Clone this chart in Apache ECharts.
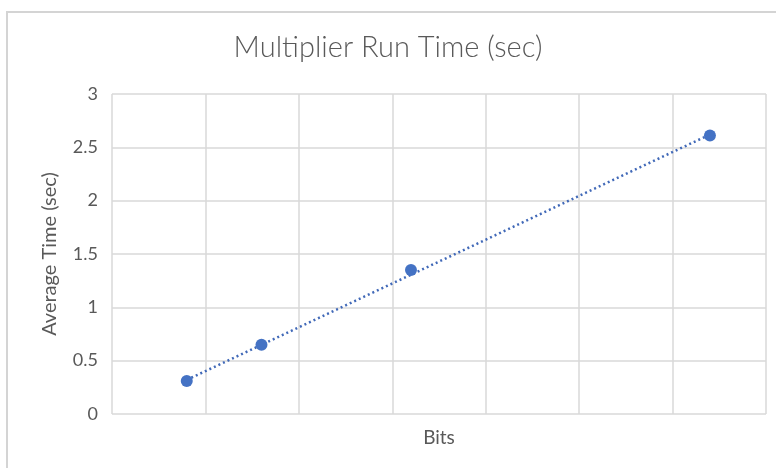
<!DOCTYPE html>
<html>
<head>
<meta charset="utf-8">
<script src="https://cdn.jsdelivr.net/npm/echarts@6/dist/echarts.min.js"></script>
<style>
html,body{margin:0;padding:0;background:#fff;}
#main{width:776px;height:468px;}
</style>
</head>
<body>
<div id="main"></div>
<script>
// bits vs average run time
var bits=[8, 16, 32, 64];
var avgTime=[0.31, 0.65, 1.35, 2.61];
// dotted linear trendline, ends
var trendBits=[8, 64];
var trendTime=[0.32, 2.62];
var yTicks=[0, 0.5, 1, 1.5, 2, 2.5, 3];

var blue='#4472C4';
var txt='#595959';
var font='Lato';

var chart=echarts.init(document.getElementById('main'));
chart.setOption({
    animation:false,
    backgroundColor:'#fff',
    graphic:[{
        type:'rect',
        shape:{x:7, y:12, width:800, height:500},
        style:{fill:'none', stroke:'#d4d4d4', lineWidth:2},
        silent:true
    }],
    title:{
        text:'Multiplier Run Time (sec)',
        left:'center', top:33, padding:0,
        textStyle:{fontFamily:font, fontSize:29, fontWeight:300, color:txt}
    },
    grid:{left:112, right:10, top:94, bottom:54},
    xAxis:{
        type:'value', min:0, max:70, interval:10,
        name:'Bits', nameLocation:'middle', nameGap:14,
        nameTextStyle:{fontFamily:font, fontSize:19, color:txt, verticalAlign:'top'},
        axisLine:{show:false}, axisTick:{show:false},
        axisLabel:{show:false},
        splitLine:{show:true, lineStyle:{color:'#d9d9d9', width:1.5}}
    },
    yAxis:{
        type:'value', min:yTicks[0], max:yTicks[yTicks.length-1], interval:0.5,
        name:'Average Time (sec)', nameLocation:'middle', nameGap:52,
        nameTextStyle:{fontFamily:font, fontSize:20, color:txt},
        axisLine:{show:false}, axisTick:{show:false},
        axisLabel:{fontFamily:font, fontSize:18, color:txt, margin:14},
        splitLine:{lineStyle:{color:'#d9d9d9', width:1.5}}
    },
    series:[
        {
            type:'line',
            data:trendBits.map(function(b,i){return [b, trendTime[i]];}),
            showSymbol:false, symbol:'none',
            lineStyle:{color:'#4169b8', width:2.5, type:[2,3]},
            z:2, silent:true
        },
        {
            type:'scatter',
            data:bits.map(function(b,i){return [b, avgTime[i]];}),
            symbol:'circle', symbolSize:12,
            itemStyle:{color:blue, opacity:1},
            z:3
        }
    ]
});
</script>
</body>
</html>
